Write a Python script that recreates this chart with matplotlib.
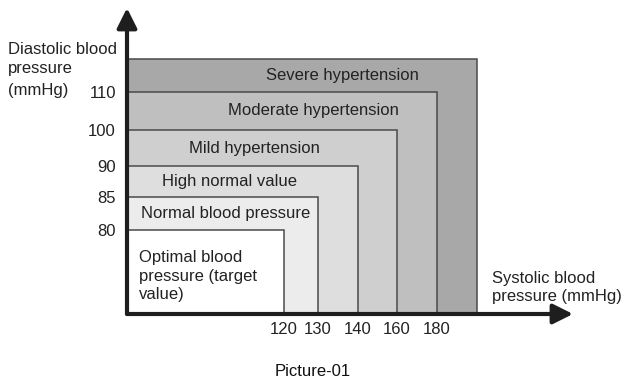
import matplotlib
matplotlib.use('Agg')
import matplotlib.pyplot as plt
import numpy as np

plt.rcParams['font.family'] = ['Liberation Sans', 'DejaVu Sans']

# categories, from the smallest box to the biggest
categories = ['Optimal blood\npressure (target\nvalue)', 'Normal blood pressure',
              'High normal value', 'Mild hypertension',
              'Moderate hypertension', 'Severe hypertension']
# upper limits (mmHg); the last box is open, 200/120 just closes it
systolic_upper = [120, 130, 140, 160, 180, 200]
diastolic_upper = [80, 85, 90, 100, 110, 120]
x_ticks = [120, 130, 140, 160, 180]
y_ticks = [80, 85, 90, 100, 110]
sys_origin = 100
dia_origin = 60

colors = ['#ffffff', '#ececec', '#dedede', '#cfcfcf', '#bfbfbf', '#a8a8a8']
text_col = '#222222'

# the picture is not to scale, so use a piecewise scale (value -> pixels)
x_bp = [100, 120, 130, 140, 160, 180, 200, 250]
x_px = [0, 157, 191, 231, 270, 310, 350, 446]
y_bp = [60, 80, 85, 90, 100, 110, 120, 140]
y_px = [0, 84, 117, 148, 184, 222, 255, 306]

fig = plt.figure(figsize=(6.32, 3.83), dpi=100)
ax = fig.add_axes([127 / 632, 69 / 383, 446 / 632, 306 / 383])
ax.set_xscale('function', functions=(lambda v: np.interp(v, x_bp, x_px),
                                     lambda p: np.interp(p, x_px, x_bp)))
ax.set_yscale('function', functions=(lambda v: np.interp(v, y_bp, y_px),
                                     lambda p: np.interp(p, y_px, y_bp)))
ax.set_xlim(100, 250)
ax.set_ylim(60, 140)

# biggest box first so the smaller ones sit on top
for i in range(len(categories) - 1, -1, -1):
    ax.bar(sys_origin, diastolic_upper[i] - dia_origin, width=systolic_upper[i] - sys_origin,
           bottom=dia_origin, align='edge', color=colors[i], edgecolor='#4a4a4a', linewidth=1.1)

# labels inside the bands
label_x = [0.027, 0.222, 0.230, 0.285, 0.417, 0.484]
for i in range(1, len(categories)):
    ymid = (diastolic_upper[i] + diastolic_upper[i - 1]) / 2
    ax.text(label_x[i], ymid, categories[i], transform=ax.get_yaxis_transform(),
            ha='center', va='center', fontsize=12, color=text_col)
ax.text(label_x[0], 0.124, categories[0], transform=ax.transAxes, ha='left', va='center',
        fontsize=12, color=text_col, linespacing=1.3)

for s in ax.spines.values():
    s.set_visible(False)
ax.set_xticks(x_ticks)
ax.set_xticklabels([str(v) for v in x_ticks])
ax.set_yticks(y_ticks)
ax.set_yticklabels([str(v) for v in y_ticks])
ax.tick_params(length=0, labelsize=12, labelcolor=text_col)
ax.tick_params(axis='x', pad=6)
ax.tick_params(axis='y', pad=8)
ax.minorticks_off()

# axis arrows
arrow = dict(arrowstyle='-|>', mutation_scale=30, lw=3, color='#1e1e1e',
             shrinkA=0, shrinkB=0)
ax.annotate('', xy=(1, 0), xytext=(0, 0), xycoords='axes fraction', arrowprops=arrow,
            annotation_clip=False, zorder=10)
ax.annotate('', xy=(0, 1), xytext=(0, 0), xycoords='axes fraction', arrowprops=arrow,
            annotation_clip=False, zorder=10)

# axis titles, one line each
for line, yp in zip(['Diastolic blood', 'pressure', '(mmHg)'], [50, 69, 91]):
    fig.text(8 / 632, 1 - yp / 383, line, ha='left', va='center', fontsize=12, color=text_col)
for line, yp in zip(['Systolic blood', 'pressure (mmHg)'], [278, 297]):
    fig.text(492 / 632, 1 - yp / 383, line, ha='left', va='center', fontsize=12, color=text_col)
fig.text(313 / 632, 1 - 372 / 383, 'Picture-01', ha='center', va='center',
         fontsize=12, color='#111111')

fig.savefig('out.png', dpi=100)
